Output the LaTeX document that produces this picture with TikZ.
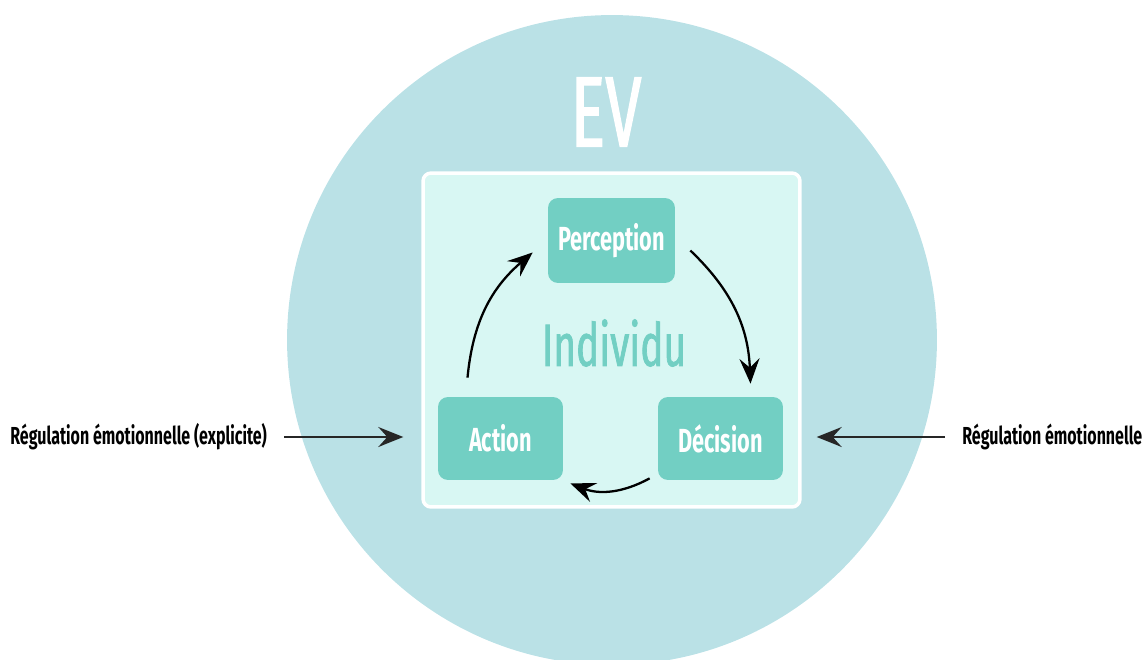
\documentclass[tikz,border=0pt]{standalone}
\usepackage{fontspec}
\usepackage{tikz}
\usetikzlibrary{arrows.meta, positioning}
\newfontfamily\condfont[FakeStretch=0.65]{Fira Sans}
\newfontfamily\medfont[FakeStretch=0.65, FakeBold=1.2]{Fira Sans}
\definecolor{evbg}{RGB}{186,225,230}
\definecolor{indbg}{RGB}{216,247,243}
\definecolor{stage}{RGB}{114,207,195}

\tikzset{
  stagebox/.style={rounded corners=0.2cm, fill=stage, text=white, minimum width=2.54cm, minimum height=1.7cm,
    font=\condfont\bfseries\fontsize{19}{21}\selectfont},
  reglabel/.style={font=\condfont\bfseries\fontsize{14}{16}\selectfont, inner sep=0pt},
  cyc/.style={-{Stealth[length=5mm, width=4mm, inset=1.8mm]}, line width=1.3pt, black},
  regarrow/.style={-{Stealth[length=5mm, width=4mm, inset=1.8mm]}, line width=1.3pt, black!85}
}

\begin{document}
\begin{tikzpicture}[x=0.02cm, y=-0.02cm]
  \useasboundingbox (0,0) rectangle (1144,660);
  \clip (0,0) rectangle (1144,660);
  % environnement virtuel
  \fill[evbg] (612,340) circle[radius=6.5cm];
  \node[text=white, font=\medfont\fontsize{57}{60}\selectfont] (ev) at (606,112) {EV};
  % individu
  \node[draw=white, line width=2pt, fill=indbg, rounded corners=0.16cm, minimum width=7.54cm, minimum height=6.68cm] (ind) at (611.5,340) {};
  \node[text=stage, font=\medfont\fontsize{34}{36}\selectfont] (indlabel) at (614,343) {Individu};
  \node[stagebox] (perc) at (611.5,240.5) {Perception};
  \node[stagebox, minimum width=2.5cm, minimum height=1.66cm] (act) at (500.5,438.5) {Action};
  \node[stagebox, minimum width=2.5cm, minimum height=1.66cm] (dec) at (720.5,438.5) {Décision};
  % cycle
  \draw[cyc] ([shift={(15,10)}]perc.east) to[bend left=22] ([shift={(30,-13)}]dec.north);
  \draw[cyc] ([shift={(-8,-2)}]dec.south west) to[bend left=25] ([shift={(7,3)}]act.south east);
  \draw[cyc] ([shift={(-33,-19)}]act.north) to[bend left=22] ([shift={(-15,12)}]perc.west);
  % regulation
  \node[reglabel, anchor=west] (regl) at (10,437) {Régulation émotionnelle (explicite)};
  \node[reglabel, anchor=west] (regr) at (962,437) {Régulation émotionnelle};
  \draw[regarrow] ([shift={(17,0)}]regl.east) -- ([shift={(-18,0)}]ind.west |- regl.east);
  \draw[regarrow] ([shift={(-17,0)}]regr.west) -- ([shift={(15,0)}]ind.east |- regr.west);
\end{tikzpicture}
\end{document}
